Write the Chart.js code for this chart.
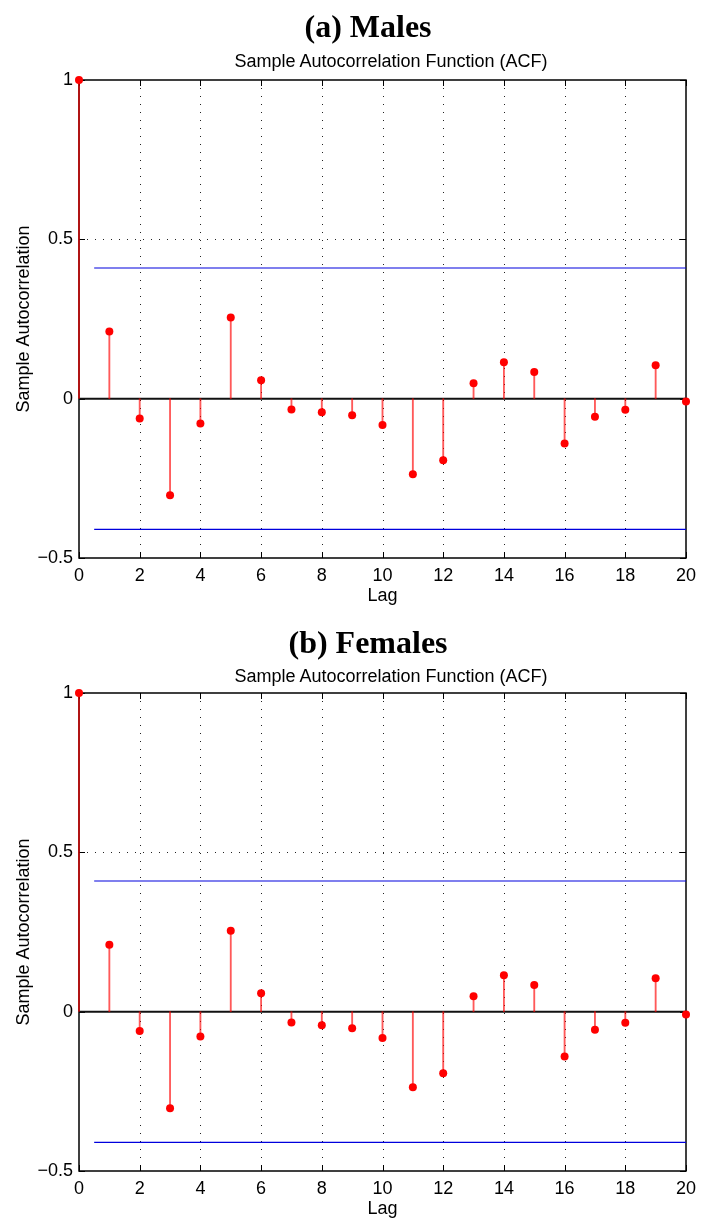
<!DOCTYPE html>
<html>
<head>
<meta charset="utf-8">
<title>Sample ACF - Males / Females</title>
<script src="https://cdn.jsdelivr.net/npm/chart.js@4.4.1/dist/chart.umd.min.js"></script>
<style>
  html, body { margin: 0; padding: 0; background: #fff; overflow: hidden; }
  .panel { position: absolute; left: 0; width: 701px; height: 611px; }
  #males { top: 0; }
  #females { top: 613px; }
  .head, .sub { position: absolute; white-space: nowrap; transform: translateX(-50%); color: #000; }
  .head { font: bold 32px/38px 'Liberation Serif', 'Times New Roman', serif; left: 368px; }
  .sub { font: 18px/20px 'Liberation Sans', Arial, sans-serif; left: 391px; }
</style>
</head>
<body>
<canvas id="males" class="panel" width="701" height="611"></canvas>
<canvas id="females" class="panel" width="701" height="611"></canvas>
<div class="head" style="top:7px">(a) Males</div>
<div class="sub" style="top:51px">Sample Autocorrelation Function (ACF)</div>
<div class="head" style="top:623px">(b) Females</div>
<div class="sub" style="top:666px">Sample Autocorrelation Function (ACF)</div>
<script>
// Data
const lags = [0, 1, 2, 3, 4, 5, 6, 7, 8, 9, 10, 11, 12, 13, 14, 15, 16, 17, 18, 19, 20];
const malesAcf = [1, 0.211, -0.062, -0.303, -0.078, 0.255, 0.058, -0.034, -0.043, -0.052, -0.083,
  -0.237, -0.193, 0.048, 0.114, 0.084, -0.141, -0.057, -0.035, 0.105, -0.009];
const femalesAcf = [1, 0.210, -0.061, -0.303, -0.078, 0.254, 0.058, -0.034, -0.043, -0.052, -0.083,
  -0.237, -0.193, 0.048, 0.114, 0.084, -0.141, -0.057, -0.035, 0.105, -0.009];
const confBound = 0.41;
const boundStart = 0.5;
const xTicks = [0, 2, 4, 6, 8, 10, 12, 14, 16, 18, 20];
const yTicks = [-0.5, 0, 0.5, 1];
const yTickLabels = ['\u22120.5', '0', '0.5', '1'];

Chart.defaults.font.family = "'Liberation Sans', Arial, sans-serif";
Chart.defaults.color = '#000';

// MATLAB-ish axes box, dotted grid and inward ticks
const matlabAxes = {
  id: 'matlabAxes',
  beforeDatasetsDraw(chart) {
    const { ctx, chartArea: a, scales: { x, y } } = chart;
    ctx.save();
    // dotted grid
    ctx.strokeStyle = '#222';
    ctx.lineWidth = 1;
    ctx.setLineDash([1, 7]);
    xTicks.forEach(v => {
      if (v === xTicks[0] || v === xTicks[xTicks.length - 1]) return;
      const px = Math.round(x.getPixelForValue(v)) + 0.5;
      ctx.beginPath();
      ctx.moveTo(px, a.top);
      ctx.lineTo(px, a.bottom);
      ctx.stroke();
    });
    yTicks.forEach(v => {
      if (v === yTicks[0] || v === yTicks[yTicks.length - 1] || v === 0) return;
      const py = Math.round(y.getPixelForValue(v)) + 0.5;
      ctx.beginPath();
      ctx.moveTo(a.left, py);
      ctx.lineTo(a.right, py);
      ctx.stroke();
    });
    ctx.setLineDash([]);
    // box
    ctx.strokeStyle = '#000';
    ctx.lineWidth = 1.5;
    ctx.strokeRect(a.left, a.top, a.right - a.left, a.bottom - a.top);
    // inward ticks
    ctx.lineWidth = 1;
    const tl = 6;
    xTicks.forEach(v => {
      const px = Math.round(x.getPixelForValue(v)) + 0.5;
      ctx.beginPath();
      ctx.moveTo(px, a.bottom); ctx.lineTo(px, a.bottom - tl);
      ctx.moveTo(px, a.top); ctx.lineTo(px, a.top + tl);
      ctx.stroke();
    });
    yTicks.forEach(v => {
      const py = Math.round(y.getPixelForValue(v)) + 0.5;
      ctx.beginPath();
      ctx.moveTo(a.left, py); ctx.lineTo(a.left + tl, py);
      ctx.moveTo(a.right, py); ctx.lineTo(a.right - tl, py);
      ctx.stroke();
    });
    ctx.restore();
  }
};

function makeAcfChart(canvasId, values) {
  const points = lags.map((lag, i) => ({ x: lag, y: values[i] }));
  return new Chart(document.getElementById(canvasId), {
    type: 'scatter',
    data: {
      datasets: [
        {
          type: 'scatter',
          data: points,
          backgroundColor: '#ff0000',
          borderWidth: 0,
          pointRadius: 4,
          clip: false,
          order: 0
        },
        {
          type: 'bar',
          data: points,
          backgroundColor: ctx => ctx.dataIndex === 0 ? '#e00000' : 'rgba(255,0,0,0.65)',
          borderColor: ctx => ctx.dataIndex === 0 ? '#e00000' : 'rgba(0,0,0,0)',
          borderWidth: ctx => ctx.dataIndex === 0 ? 1 : 0,
          barThickness: 1.2,
          clip: false,
          order: 1
        },
        {
          type: 'line',
          data: [{ x: lags[0], y: 0 }, { x: lags[lags.length - 1], y: 0 }],
          borderColor: '#111',
          borderWidth: 2,
          pointRadius: 0,
          clip: false,
          order: 2
        },
        {
          type: 'line',
          data: [{ x: boundStart, y: confBound }, { x: lags[lags.length - 1], y: confBound }],
          borderColor: '#0000dd',
          borderWidth: 1.2,
          pointRadius: 0,
          order: 3
        },
        {
          type: 'line',
          data: [{ x: boundStart, y: -confBound }, { x: lags[lags.length - 1], y: -confBound }],
          borderColor: '#0000dd',
          borderWidth: 1.2,
          pointRadius: 0,
          order: 3
        }
      ]
    },
    options: {
      responsive: false,
      animation: false,
      devicePixelRatio: 1,
      layout: { padding: { left: 0, right: 15, top: 80, bottom: 0 } },
      plugins: {
        legend: { display: false },
        tooltip: { enabled: false }
      },
      scales: {
        x: {
          type: 'linear',
          offset: false,
          min: xTicks[0],
          max: xTicks[xTicks.length - 1],
          afterBuildTicks: s => { s.ticks = xTicks.map(v => ({ value: v })); },
          afterFit: s => { s.height = 53; s.paddingLeft = 0; s.paddingRight = 0; },
          grid: { display: false, drawTicks: false },
          border: { display: false },
          ticks: { font: { size: 18 }, padding: 7, maxRotation: 0, autoSkip: false },
          title: { display: true, text: 'Lag', font: { size: 18 }, padding: { top: 0, bottom: 4 } }
        },
        y: {
          min: yTicks[0],
          max: yTicks[yTicks.length - 1],
          afterBuildTicks: s => { s.ticks = yTicks.map(v => ({ value: v })); },
          afterFit: s => { s.width = 79; s.paddingTop = 0; s.paddingBottom = 0; },
          grid: { display: false, drawTicks: false },
          border: { display: false },
          ticks: {
            font: { size: 18 },
            padding: 6,
            autoSkip: false,
            callback: v => yTickLabels[yTicks.indexOf(v)]
          },
          title: { display: true, text: 'Sample Autocorrelation', font: { size: 18 }, padding: { top: 13, bottom: 0 } }
        }
      }
    },
    plugins: [matlabAxes]
  });
}

makeAcfChart('males', malesAcf);
makeAcfChart('females', femalesAcf);
</script>
</body>
</html>
